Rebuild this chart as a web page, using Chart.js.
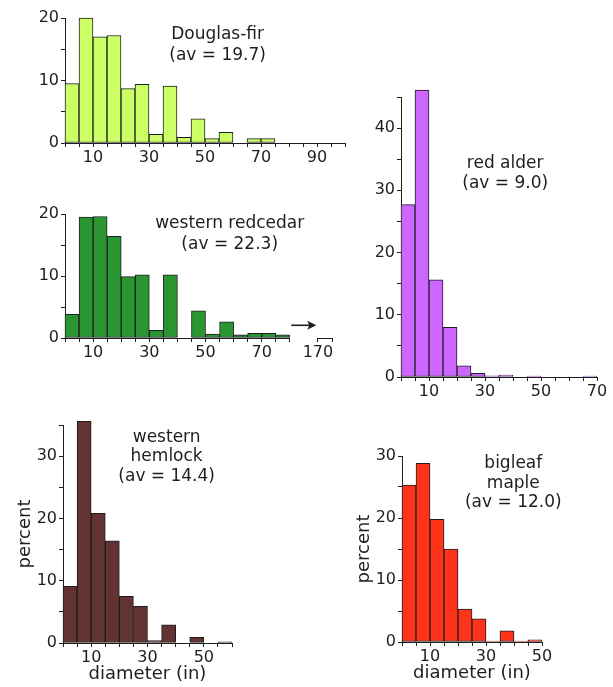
<!DOCTYPE html>
<html>
<head>
<meta charset="utf-8">
<script src="https://cdn.jsdelivr.net/npm/chart.js@4.4.1/dist/chart.umd.min.js"></script>
<style>
    html, body { margin: 0; padding: 0; background: #fff; }
    #wrap { position: relative; width: 613px; height: 687px; overflow: hidden; }
    #wrap canvas { position: absolute; }
</style>
</head>
<body>
<div id="wrap">
    <canvas id="douglas"></canvas>
    <canvas id="redcedar"></canvas>
    <canvas id="alder"></canvas>
    <canvas id="hemlock"></canvas>
    <canvas id="maple"></canvas>
</div>
<script>
// Diameter classes are 5 inches wide; each array holds the lower edge of a class
const douglasBins = [0, 5, 10, 15, 20, 25, 30, 35, 40, 45, 50, 55, 60, 65, 70, 75, 80, 85, 90, 95];
const douglasPercent = [9.5, 20.0, 17.0, 17.2, 8.7, 9.4, 1.4, 9.1, 0.9, 3.85, 0.7, 1.7, 0, 0.7, 0.7, 0, 0, 0, 0, 0];

const redcedarBins = [0, 5, 10, 15, 20, 25, 30, 35, 40, 45, 50, 55, 60, 65, 70, 75];
const redcedarPercent = [3.8, 19.5, 19.6, 16.4, 9.9, 10.2, 1.25, 10.2, 0, 4.4, 0.65, 2.6, 0.5, 0.75, 0.75, 0.5];

const alderBins = [0, 5, 10, 15, 20, 25, 30, 35, 40, 45, 50, 55, 60, 65];
const alderPercent = [27.7, 46.1, 15.6, 8.0, 1.8, 0.6, 0.2, 0.3, 0, 0.15, 0, 0, 0, 0.15];

const hemlockBins = [0, 5, 10, 15, 20, 25, 30, 35, 40, 45, 50, 55];
const hemlockPercent = [9.1, 35.6, 20.8, 16.4, 7.5, 5.9, 0.4, 2.9, 0, 0.9, 0, 0.2];

const mapleBins = [0, 5, 10, 15, 20, 25, 30, 35, 40, 45];
const maplePercent = [25.3, 28.8, 19.8, 15.0, 5.3, 3.75, 0.15, 1.8, 0.15, 0.35];

// Tick labels
const xTickLabels = [10, 30, 50, 70, 90];
const yTickLabels = [0, 10, 20, 30, 40];
const redcedarFarLabel = '170';   // broken axis: the last class is drawn right after the arrow

const ink = '#1e1e1e';
const BIN = 5;

Chart.defaults.font.family = '"DejaVu Sans", sans-serif';
Chart.defaults.font.size = 16;
Chart.defaults.color = ink;

// Species name + average, drawn inside each panel
const panelText = {
    id: 'panelText',
    afterDatasetsDraw(chart, args, opts) {
        if (!opts.lines) return;
        const { ctx, scales } = chart;
        const x = scales.x.getPixelForValue(opts.x);
        const y = scales.y.getPixelForValue(opts.y);
        ctx.save();
        ctx.font = '17px "DejaVu Sans", sans-serif';
        ctx.fillStyle = ink;
        ctx.textAlign = 'center';
        ctx.textBaseline = 'middle';
        opts.lines.forEach((t, i) => ctx.fillText(t, x, y + i * opts.gap));
        ctx.restore();
    }
};

// Broken x axis for western redcedar (axis gap + arrow toward 170)
const axisBreak = {
    id: 'axisBreak',
    afterDraw(chart, args, opts) {
        if (!opts.enabled) return;
        const { ctx, scales } = chart;
        const x = scales.x, y = scales.y;
        const y0 = Math.round(y.getPixelForValue(0)) + 0.5;
        ctx.save();
        ctx.strokeStyle = ink;
        ctx.lineWidth = 1;
        ctx.beginPath();
        ctx.moveTo(x.getPixelForValue(0), y0);
        ctx.lineTo(x.getPixelForValue(opts.gapFrom), y0);
        ctx.moveTo(x.getPixelForValue(opts.gapTo), y0);
        ctx.lineTo(x.getPixelForValue(opts.gapTo + BIN), y0);
        ctx.stroke();
        // arrow
        const ay = y.getPixelForValue(opts.arrowY);
        const ax1 = x.getPixelForValue(opts.arrowFrom);
        const ax2 = x.getPixelForValue(opts.arrowTo);
        ctx.lineWidth = 1.6;
        ctx.beginPath();
        ctx.moveTo(ax1, ay);
        ctx.lineTo(ax2 - 4, ay);
        ctx.stroke();
        ctx.fillStyle = ink;
        ctx.beginPath();
        ctx.moveTo(ax2, ay);
        ctx.lineTo(ax2 - 9, ay - 4.5);
        ctx.lineTo(ax2 - 7, ay);
        ctx.lineTo(ax2 - 9, ay + 4.5);
        ctx.closePath();
        ctx.fill();
        ctx.restore();
    }
};

function makeHist(cfg) {
    const L = 48, T = 14;
    const R = cfg.right || 14;
    const B = cfg.xTitle ? 42 : 24;
    const a = cfg.area;
    const canvas = document.getElementById(cfg.id);
    const w = a.right - a.left + L + R;
    const h = a.bottom - a.top + T + B;
    canvas.width = w;
    canvas.height = h;
    canvas.style.width = w + 'px';
    canvas.style.height = h + 'px';
    canvas.style.left = (a.left - L) + 'px';
    canvas.style.top = (a.top - T) + 'px';

    const hidden = cfg.hiddenTicks || [];
    const tickColor = c => (c.tick && hidden.includes(c.tick.value)) ? 'rgba(0,0,0,0)' : ink;

    return new Chart(canvas, {
        type: 'bar',
        data: {
            datasets: [{
                data: cfg.bins.map((b, i) => ({ x: b + BIN / 2, y: cfg.values[i] })),
                backgroundColor: cfg.color,
                borderColor: ink,
                borderWidth: 1,
                borderSkipped: false,
                barPercentage: 1,
                categoryPercentage: 1,
                clip: false
            }]
        },
        options: {
            responsive: false,
            animation: false,
            events: [],
            layout: { padding: { left: 0, top: T, right: R, bottom: 0 } },
            plugins: {
                legend: { display: false },
                tooltip: { enabled: false },
                panelText: cfg.text,
                axisBreak: cfg.axisBreak || { enabled: false }
            },
            scales: {
                x: {
                    type: 'linear',
                    min: 0,
                    max: cfg.xMax,
                    offset: false,
                    afterFit: s => { s.height = B; },
                    border: { display: !cfg.axisBreak, color: ink, width: 1 },
                    grid: { offset: false, drawOnChartArea: false, drawTicks: true, tickLength: 4, color: tickColor },
                    ticks: {
                        stepSize: BIN,
                        autoSkip: false,
                        maxRotation: 0,
                        padding: 1,
                        callback: v => {
                            if (cfg.farLabelAt !== undefined && v === cfg.farLabelAt) return redcedarFarLabel;
                            return xTickLabels.includes(v) ? String(v) : '';
                        }
                    },
                    title: cfg.xTitle ? { display: true, text: cfg.xTitle, padding: 0, font: { size: 18 } } : { display: false }
                },
                y: {
                    min: 0,
                    max: cfg.yMax,
                    afterFit: s => { s.width = L; },
                    border: { color: ink, width: 1 },
                    grid: { drawOnChartArea: false, drawTicks: true, tickLength: 4, color: ink },
                    ticks: {
                        stepSize: 5,
                        autoSkip: false,
                        padding: 2,
                        callback: v => yTickLabels.includes(v) ? String(v) : ''
                    },
                    title: cfg.yTitle ? { display: true, text: cfg.yTitle, padding: 0, font: { size: 18 } } : { display: false }
                }
            }
        },
        plugins: [panelText, axisBreak]
    });
}

makeHist({
    id: 'douglas', bins: douglasBins, values: douglasPercent, color: '#ccff66',
    xMax: 100, yMax: 20,
    area: { left: 65, right: 345, top: 18, bottom: 143 },
    text: { x: 54.5, y: 17.4, gap: 21, lines: ['Douglas-fir', '(av = 19.7)'] }
});

makeHist({
    id: 'redcedar', bins: redcedarBins, values: redcedarPercent, color: '#299632',
    xMax: 95, yMax: 20, farLabelAt: 90, hiddenTicks: [85],
    area: { left: 65, right: 332, top: 214, bottom: 338 },
    text: { x: 58.6, y: 18.4, gap: 21, lines: ['western redcedar', '(av = 22.3)'] },
    axisBreak: { enabled: true, gapFrom: 80, gapTo: 90, arrowFrom: 80.5, arrowTo: 89.4, arrowY: 2.05 }
});

makeHist({
    id: 'alder', bins: alderBins, values: alderPercent, color: '#cc66ff',
    xMax: 70, yMax: 45,
    area: { left: 401, right: 597, top: 97, bottom: 377 },
    text: { x: 37.2, y: 34.3, gap: 20, lines: ['red alder', '(av = 9.0)'] }
});

makeHist({
    id: 'hemlock', bins: hemlockBins, values: hemlockPercent, color: '#633333',
    xMax: 60, yMax: 35, right: 30,
    area: { left: 63, right: 232, top: 425, bottom: 643 },
    text: { x: 36.8, y: 33.0, gap: 19.5, lines: ['western', 'hemlock', '(av = 14.4)'] },
    xTitle: 'diameter (in)', yTitle: 'percent'
});

makeHist({
    id: 'maple', bins: mapleBins, values: maplePercent, color: '#ff3319',
    xMax: 50, yMax: 30, right: 60,
    area: { left: 402, right: 542, top: 456, bottom: 642 },
    text: { x: 39.75, y: 28.7, gap: 19.5, lines: ['bigleaf', 'maple', '(av = 12.0)'] },
    xTitle: 'diameter (in)', yTitle: 'percent'
});
</script>
</body>
</html>
